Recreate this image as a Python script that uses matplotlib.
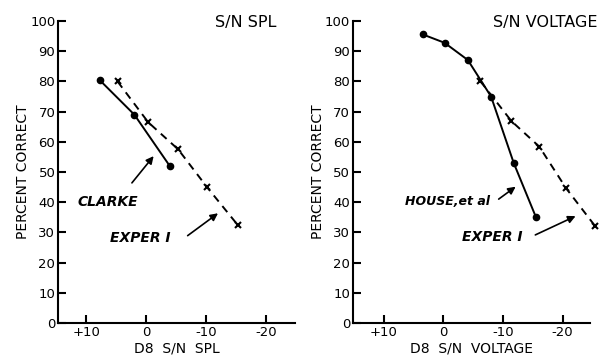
import matplotlib
matplotlib.use("Agg")
import matplotlib.pyplot as plt

# left panel: S/N SPL
clarke_x = [7.8, 2.0, -3.9]
clarke_y = [80.5, 69.0, 52.0]
exper1_spl_x = [4.8, -0.3, -5.3, -10.1, -15.2]
exper1_spl_y = [80.0, 66.5, 57.5, 45.0, 32.5]

# right panel: S/N VOLTAGE
house_x = [3.5, -0.2, -4.1, -8.0, -11.8, -15.5]
house_y = [95.6, 92.8, 87.1, 75.0, 53.0, 35.2]
exper1_volt_x = [-6.2, -11.4, -16.1, -20.6, -25.5]
exper1_volt_y = [80.1, 66.9, 58.4, 44.6, 32.0]

xticks = [10, 0, -10, -20]
xtick_labels = ["+10", "0", "-10", "-20"]
yticks = list(range(0, 101, 10))

fig = plt.figure(figsize=(5.99, 3.63), dpi=100)
ax1 = fig.add_axes([0.097, 0.110, 0.396, 0.832])
ax2 = fig.add_axes([0.589, 0.110, 0.396, 0.832])

def style_axes(ax, xlim, xlabel, title, title_x):
    ax.set_xlim(*xlim)
    ax.set_ylim(0, 100)
    for s in ["top", "right"]:
        ax.spines[s].set_visible(False)
    for s in ["left", "bottom"]:
        ax.spines[s].set_linewidth(1.5)
    ax.set_xticks(xticks)
    ax.set_xticklabels(xtick_labels)
    ax.set_yticks(yticks)
    ax.tick_params(direction="in", length=6, width=1.5, labelsize=9.5, pad=2)
    ax.tick_params(axis="y", pad=2)
    ax.set_xlabel(xlabel, fontsize=10, labelpad=2)
    ax.set_ylabel("PERCENT CORRECT", fontsize=10, labelpad=0)
    ax.text(title_x, 99.5, title, ha="right", va="center", fontsize=11.5, clip_on=False)

arrow = dict(arrowstyle="-|>", color="black", lw=1.2, mutation_scale=11)
txt = dict(fontsize=10, style="italic", fontweight="bold", va="center")

# left
ax1.plot(clarke_x, clarke_y, color="black", lw=1.4, marker="o", ms=4.5)
ax1.plot(exper1_spl_x, exper1_spl_y, color="black", lw=1.4, ls=(0, (4, 3)),
         marker="x", ms=4.5, mew=1.5)
style_axes(ax1, (14.7, -24.8), "D8  S/N  SPL", "S/N SPL", -21.7)
ax1.text(11.4, 40.2, "CLARKE", ha="left", **txt)
ax1.annotate("", xy=(-1.5, 56), xytext=(2.7, 45.7), arrowprops=arrow)
ax1.text(6.0, 28.2, "EXPER I", ha="left", **txt)
ax1.annotate("", xy=(-12.3, 36.9), xytext=(-6.5, 28.4), arrowprops=arrow)

# right
ax2.plot(house_x, house_y, color="black", lw=1.4, marker="o", ms=4.5)
ax2.plot(exper1_volt_x, exper1_volt_y, color="black", lw=1.4, ls=(0, (4, 3)),
         marker="x", ms=4.5, mew=1.5, clip_on=False)
style_axes(ax2, (15.2, -24.6), "D8  S/N  VOLTAGE", "S/N VOLTAGE", -25.8)
ax2.text(6.4, 40.2, "HOUSE,et al", ha="left", fontsize=9, style="italic",
         fontweight="bold", va="center")
ax2.annotate("", xy=(-12.5, 45.7), xytext=(-8.9, 40.5), arrowprops=arrow)
ax2.text(-3.1, 28.4, "EXPER I", ha="left", **txt)
ax2.annotate("", xy=(-22.6, 35.8), xytext=(-15.0, 28.8), arrowprops=arrow)

fig.savefig("out.png", dpi=100)
